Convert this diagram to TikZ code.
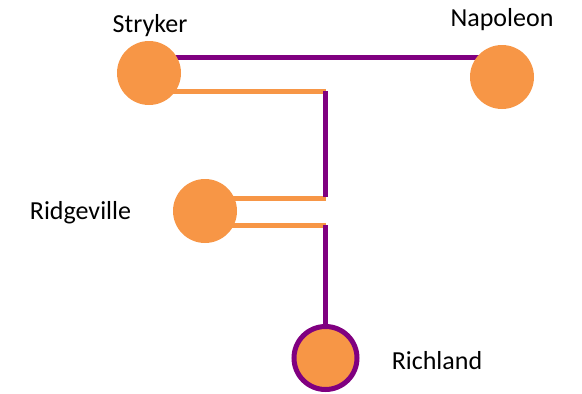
\documentclass[tikz,border=0pt]{standalone}
\usepackage{fontspec}
\setmainfont{Carlito}
\usetikzlibrary{backgrounds}
\definecolor{townorange}{HTML}{F79646}
\definecolor{linepurple}{HTML}{800080}
\tikzset{%
    Town node/.style={%
        circle,
        fill=townorange,
        minimum size=64pt,
        inner sep=0pt
    },
    End node/.style={%
        Town node,
        draw=linepurple,
        line width=5pt,
        minimum size=63pt
    },
    Name node/.style={%
        anchor=base,
        inner sep=0pt,
        font=\fontsize{26}{31}\selectfont
    },
    Purple line/.style={%
        linepurple,
        line width=5pt
    },
    Orange line/.style={%
        townorange,
        line width=5pt
    }
}

\begin{document}
\begin{tikzpicture}[x=1pt,y=-1pt]
\useasboundingbox (0,0) rectangle (582,394);

\node[Town node] (stryker)    at (149,73)    {};
\node[Town node] (napoleon)   at (502,77)    {};
\node[Town node] (ridgeville) at (205,211)   {};
\node[End node]  (richland)   at (325.5,358) {};

\node[Name node] (stryker name)    at (150,32)  {Stryker};
\node[Name node] (napoleon name)   at (502,26)  {Napoleon};
\node[Name node] (ridgeville name) at (80.5,219) {Ridgeville};
\node[Name node] (richland name)   at (437,369) {Richland};

% points ou les lignes tournent
\coordinate (j1) at (325.5,91) ;
\coordinate (j2) at (325.5,197) ;
\coordinate (j3) at (325.5,198) ;
\coordinate (j4) at (325.5,225) ;

\begin{scope}[on background layer]
\draw[Purple line] ([yshift=16pt]stryker.center)
    -- ([yshift=20pt]napoleon.center) ;
\draw[Orange line] (stryker.center |- j1) -- (j1) ;
\draw[Orange line] (ridgeville.center |- j3) -- (j3) ;
\draw[Orange line] (ridgeville.center |- j4) -- (j4) ;
\draw[Purple line] (j1) -- (j2) ;
\draw[Purple line] (j4) -- (richland.north) ;
\end{scope}

\end{tikzpicture}
\end{document}
